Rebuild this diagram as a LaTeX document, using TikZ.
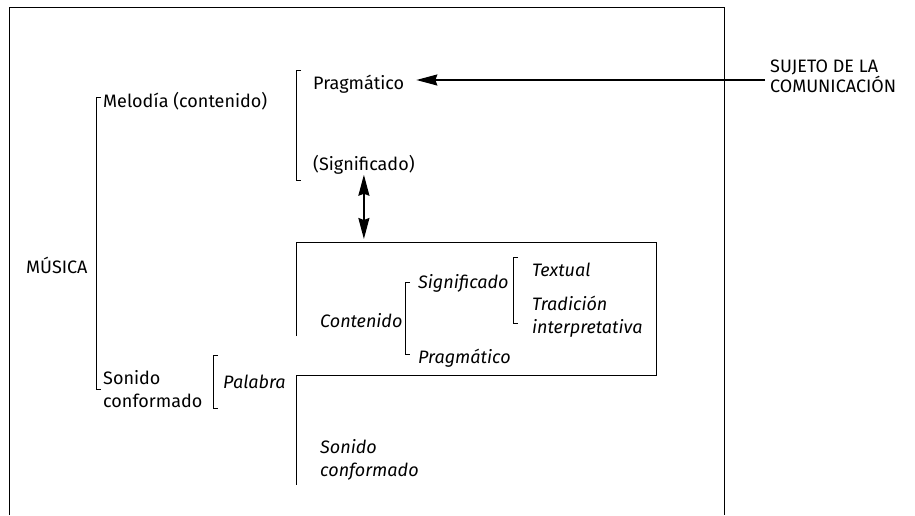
\documentclass[tikz,border=0pt]{standalone}
\usepackage{fontspec}
\setmainfont{Fira Sans}
\usepackage{tikz}
\usetikzlibrary{arrows.meta, positioning, calc}
\tikzset{
  label/.style = {anchor=west, inner sep=0pt, align=left, font=\fontsize{18}{23}\selectfont},
  ilabel/.style = {label, font=\fontsize{18}{23}\selectfont\itshape},
  thinline/.style = {line width=0.8pt},
  headtip/.tip = {Stealth[length=21pt,width=11pt,inset=2pt]},
  bigarrow/.style = {line width=1.7pt, -headtip}
}
\newcommand{\bracketline}[3]{\draw[thinline] (#1+5,#2) -- (#1,#2) -- (#1,#3) -- (#1+5,#3);}

\begin{document}
\begin{tikzpicture}[x=1pt,y=-1pt]
  \useasboundingbox (0,0) rectangle (915,515);

  \def\Fleft{9}
  \def\Fright{724}
  \def\Ftop{7}

  % outer frame, open at the foot
  \draw[thinline] (\Fleft,515) -- (\Fleft,\Ftop) -- (\Fright,\Ftop) -- (\Fright,515);

  % inner box
  \coordinate (boxNW) at (296,242);
  \draw[thinline] (296,336) -- (boxNW) -- (656,242) -- (656,375) -- (296,375) -- (296,485);

  \node[label] (musica)   at (26,265)  {MÚSICA};
  \node[label] (melodia)  at (103,101) {Melodía (contenido)};
  \node[label] (sonido)   at (103,389) {Sonido\\conformado};
  \node[ilabel] (palabra) at (223,382) {Palabra};

  \node[label] (pragA)    at (313,84)  {Pragmático};
  \node[label] (signifA)  at (313,165) {(Significado)};
  \node[label, font=\fontsize{18}{18}\selectfont] (sujeto) at (770,76) {SUJETO DE LA\\COMUNICACIÓN};

  \node[ilabel] (contenido) at (320,321) {Contenido};
  \node[ilabel] (signifB)   at (418,283) {Significado};
  \node[ilabel] (pragB)     at (418,358) {Pragmático};
  \node[ilabel] (textual)   at (532,270) {Textual};
  \node[ilabel] (tradicion) at (532,317) {Tradición\\interpretativa};
  \node[ilabel] (sonidoB)   at (320,460) {Sonido\\conformado};

  % brackets
  \bracketline{96}{97}{389}
  \bracketline{296}{70}{180}
  \bracketline{213}{355}{408}
  \bracketline{405}{282}{354}
  \bracketline{513}{257}{323}

  \coordinate (arrA) at (765,80);
  \draw[bigarrow] (arrA) -- ([xshift=12pt]pragA.east |- arrA);
  \draw[bigarrow, headtip-headtip, shorten >=3pt]
    (signifA.south) -- (signifA.south |- boxNW);
\end{tikzpicture}
\end{document}
